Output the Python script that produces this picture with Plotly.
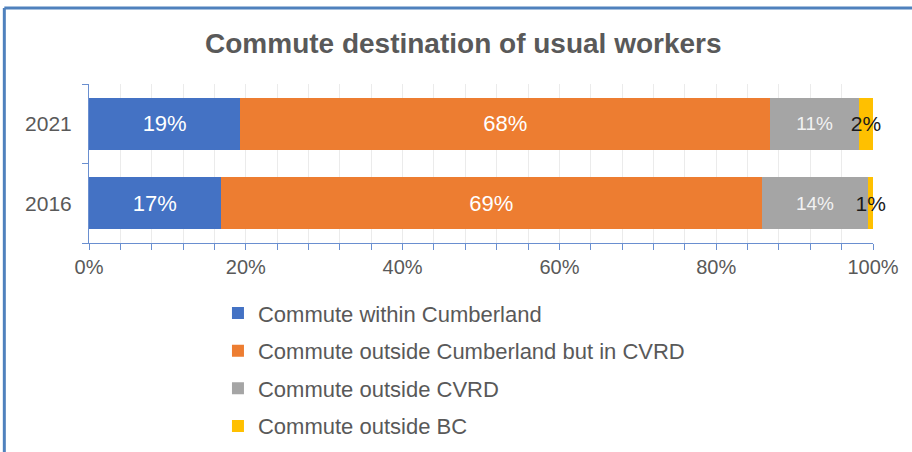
import plotly.graph_objects as go

YEARS = ["2021", "2016"]
SERIES = [
    "Commute within Cumberland",
    "Commute outside Cumberland but in CVRD",
    "Commute outside CVRD",
    "Commute outside BC",
]
WITHIN = [19.3, 16.8]
OUTSIDE_CUMB = [67.6, 69.0]
OUTSIDE_CVRD = [11.3, 13.6]
OUTSIDE_BC = [1.8, 0.6]

COLORS = ["#4472C4", "#ED7D31", "#A5A5A5", "#FFC000"]
LABEL_STYLE = [
    dict(color="#ffffff", size=22),
    dict(color="#ffffff", size=22),
    dict(color="#f2f2f2", size=19),
    dict(color="#1a1a1a", size=21),
]
AXIS_BLUE = "#6a8fd0"
FONT = "Liberation Sans, Arial, sans-serif"

fig = go.Figure()
for i, (name, vals) in enumerate(zip(SERIES, [WITHIN, OUTSIDE_CUMB, OUTSIDE_CVRD, OUTSIDE_BC])):
    fig.add_trace(go.Bar(
        y=YEARS,
        x=vals,
        name=name,
        orientation="h",
        marker=dict(color=COLORS[i], line=dict(width=0)),
        text=[f"{round(v)}%" for v in vals],
        textposition="inside",
        insidetextanchor="middle",
        textangle=0,
        constraintext="none",
        cliponaxis=False,
        textfont=dict(family=FONT, **LABEL_STYLE[i]),
        legendgroup=name,
    ))

fig.update_layout(
    width=912,
    height=452,
    barmode="stack",
    bargap=0.35,
    plot_bgcolor="#fff",
    paper_bgcolor="#fff",
    font=dict(family=FONT, color="#595959", size=20),
    margin=dict(l=89, r=39, t=84, b=209, autoexpand=False),
    title=dict(
        text="<b>Commute destination of usual workers</b>",
        x=0.508, xanchor="center", y=1 - 43 / 452, yanchor="middle",
        font=dict(family=FONT, size=28, color="#595959"),
    ),
    legend=dict(
        orientation="v",
        x=0.1645, xanchor="left",
        y=-0.31, yanchor="top",
        traceorder="grouped",
        tracegroupgap=6,
        font=dict(family=FONT, size=22, color="#595959"),
        itemwidth=30,
    ),
    shapes=[
        dict(type="line", xref="paper", yref="paper", x0=-0.108, x1=1.06,
             y0=1.478, y1=1.478, line=dict(color="#4F81BD", width=3)),
        dict(type="line", xref="paper", yref="paper", x0=-0.108, x1=-0.108,
             y0=1.478, y1=-1.4, line=dict(color="#4F81BD", width=3)),
    ],
)

fig.update_xaxes(
    range=[0, 100],
    dtick=20,
    ticksuffix="%",
    showgrid=True,
    gridcolor="#ebebeb",
    zeroline=False,
    showline=True,
    linecolor=AXIS_BLUE,
    ticks="outside",
    ticklen=6,
    tickcolor=AXIS_BLUE,
    minor=dict(dtick=4, ticks="outside", ticklen=6, tickcolor=AXIS_BLUE,
               showgrid=True, gridcolor="#ebebeb"),
    tickfont=dict(family=FONT, size=20, color="#595959"),
    fixedrange=True,
)
fig.update_yaxes(
    type="category",
    categoryorder="array",
    categoryarray=["2016", "2021"],
    showline=True,
    linecolor=AXIS_BLUE,
    ticks="outside",
    tickson="boundaries",
    ticklen=6,
    tickcolor=AXIS_BLUE,
    ticklabelstandoff=12,
    showgrid=False,
    tickfont=dict(family=FONT, size=21, color="#595959"),
    fixedrange=True,
)

# drop the browser's default 8px body margin so the figure sits at the page corner
fig.write_html(
    "out.html",
    config={"displayModeBar": False},
    post_script="document.body.style.margin='0';",
)
